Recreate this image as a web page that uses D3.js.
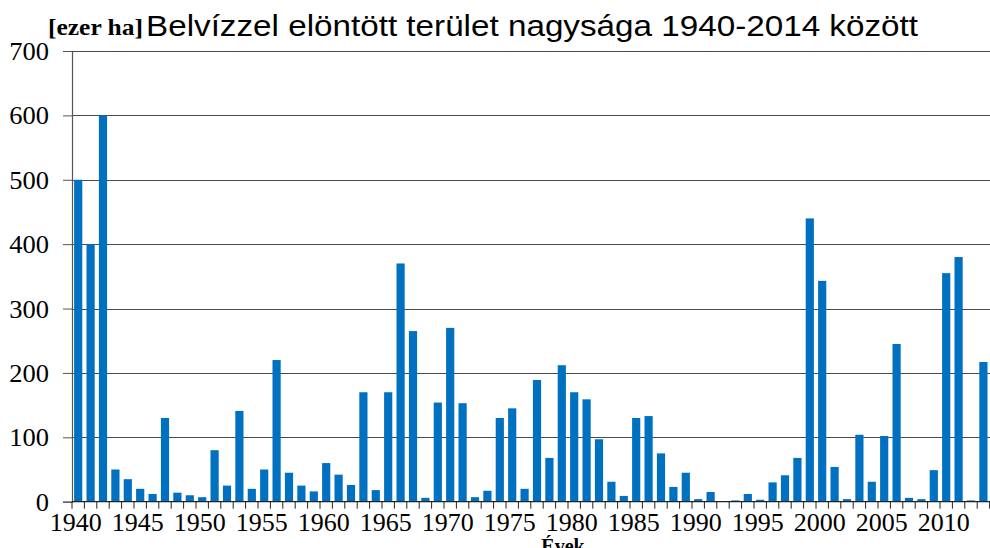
<!DOCTYPE html>
<html><head><meta charset="utf-8">
<script src="https://cdn.jsdelivr.net/npm/d3@7"></script>
<style>body{margin:0;background:#fff}svg{display:block}</style>
</head><body>
<svg id="c" width="990" height="548"></svg>
<script>
const years = d3.range(1940, 2015);
// values in ezer ha, 1940..2013 (2014 falls outside the visible area)
const values = [500,400,600,50,35,20,12,130,14,10,
                7,80,25,141,20,50,220,45,25,16,
                60,42,26,170,18,170,370,265,6,154,
                270,153,7,17,130,145,20,189,68,212,
                170,159,97,31,9,130,133,75,23,45,
                4,15,0,2,12,3,30,41,68,440,
                343,54,4,104,31,102,245,6,4,49,
                355,380,2,217];
const yTicks = [0,100,200,300,400,500,600,700];
const xLabels = years.filter(y => y % 5 === 0);
const titleUnit = "[ezer ha]";
const titleText = "Belvízzel elöntött terület nagysága 1940-2014 között";
const xTitle = "Évek";

const svg = d3.select("#c");
const mLeft = 72, mTop = 51, mBottom = 501.7, step = 12.4;
const x = d3.scaleBand().domain(years).range([mLeft, mLeft + years.length * step])
  .paddingInner(0.34).paddingOuter(0.17);
const y = d3.scaleLinear().domain([0, 700]).range([mBottom, mTop]);

// gridlines
svg.append("g").selectAll("line").data(yTicks.filter(d => d > 0)).join("line")
  .attr("x1", mLeft).attr("x2", 990)
  .attr("y1", d => Math.round(y(d)) + 0.5).attr("y2", d => Math.round(y(d)) + 0.5)
  .attr("stroke", "#4a4a4a").attr("stroke-width", 1.1);

// bars
const data = values.map((v, i) => ({year: years[i], v}));
svg.append("g").selectAll("rect").data(data.filter(d => d.v > 0)).join("rect")
  .attr("x", d => x(d.year)).attr("width", x.bandwidth())
  .attr("y", d => y(d.v)).attr("height", d => y(0) - y(d.v))
  .attr("fill", "#0070C0");

// y axis
const ya = svg.append("g").attr("transform", `translate(${mLeft},0)`)
  .call(d3.axisLeft(y).tickValues(yTicks).tickSize(9).tickPadding(14));
ya.select(".domain").attr("stroke", "#555").attr("stroke-width", 1.2);
ya.selectAll(".tick line").attr("stroke", "#555");
ya.selectAll("text").attr("font-family", "Liberation Serif").attr("font-size", 25)
  .attr("fill", "#000").attr("dy", "0.34em")
  .attr("transform", "scale(1.06,1)").attr("x", -23 / 1.06);

// x axis
const xa = svg.append("g").attr("transform", `translate(-2.5,${mBottom})`)
  .call(d3.axisBottom(x).tickValues(xLabels).tickSize(0).tickPadding(11));
xa.select(".domain").remove();
xa.selectAll("text").attr("font-family", "Liberation Serif").attr("font-size", 26)
  .attr("fill", "#000");
svg.append("line").attr("x1", mLeft).attr("x2", 990)
  .attr("y1", mBottom).attr("y2", mBottom).attr("stroke", "#222").attr("stroke-width", 1.2);
const gap = (x.step() - x.bandwidth()) / 2;
svg.append("g").selectAll("line").data(years).join("line")
  .attr("x1", d => x(d) - gap).attr("x2", d => x(d) - gap)
  .attr("y1", mBottom).attr("y2", mBottom + 7)
  .attr("stroke", "#222").attr("stroke-width", 1);

// titles
svg.append("text").attr("x", 48).attr("y", 35)
  .attr("font-family", "Liberation Serif").attr("font-weight", "bold").attr("font-size", 24)
  .attr("textLength", 95).attr("lengthAdjust", "spacingAndGlyphs")
  .text(titleUnit);
svg.append("text").attr("x", 146).attr("y", 36)
  .attr("font-family", "Liberation Sans").attr("font-size", 29.5)
  .attr("textLength", 772).attr("lengthAdjust", "spacingAndGlyphs")
  .text(titleText);
svg.append("text").attr("x", 563).attr("y", 553).attr("text-anchor", "middle")
  .attr("font-family", "Liberation Serif").attr("font-weight", "bold").attr("font-size", 20)
  .text(xTitle);
</script>
</body></html>
